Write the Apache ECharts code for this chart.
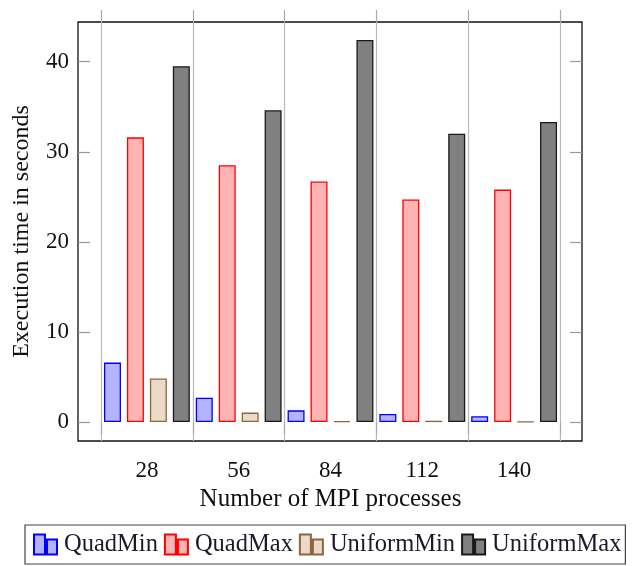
<!DOCTYPE html>
<html>
<head>
<meta charset="utf-8">
<script src="https://cdn.jsdelivr.net/npm/echarts@6/dist/echarts.min.js"></script>
<style>
  html, body { margin: 0; padding: 0; background: #fff; }
  #chart { width: 632px; height: 566px; }
</style>
</head>
<body>
<div id="chart"></div>
<script>
  // processes on the x axis
  var categories = ['28', '56', '84', '112', '140'];
  var seriesNames = ['QuadMin', 'QuadMax', 'UniformMin', 'UniformMax'];
  // execution times (s)
  var quadMin = [6.6, 2.7, 1.3, 0.9, 0.65];
  var quadMax = [31.6, 28.5, 26.7, 24.7, 25.8];
  var uniformMin = [4.85, 1.05, 0.12, 0.15, 0.06];
  var uniformMax = [39.5, 34.6, 42.4, 32.0, 33.3];
  var yTicks = [0, 10, 20, 30, 40];

  var font = 'Liberation Serif';
  var fills = ['#b3b3ff', '#ffb3b3', '#ecd9c6', '#808080'];
  var strokes = ['#0000ff', '#ff0000', '#8c6642', '#1a1a1a'];
  var values = [quadMin, quadMax, uniformMin, uniformMax];

  var yMin = -2.1, yMax = 44.4;

  var series = seriesNames.map(function (name, i) {
    return {
      name: name,
      type: 'bar',
      xAxisIndex: 1,
      yAxisIndex: 2,
      data: values[i],
      barWidth: 17,
      barGap: '35%',
      itemStyle: { color: fills[i], borderColor: strokes[i], borderWidth: 1.3 }
    };
  });

  var chart = echarts.init(document.getElementById('chart'));
  chart.setOption({
    animation: false,
    textStyle: { fontFamily: font },
    grid: [
      // frame
      { left: 78, right: 50, top: 22, bottom: 125, show: true, borderColor: '#111', borderWidth: 1.3, backgroundColor: 'transparent' },
      // bar area, between first and last grid line
      { left: 101, right: 72, top: 22, bottom: 125 }
    ],
    xAxis: [
      { gridIndex: 0, type: 'value', show: false, min: 0, max: 1 },
      {
        gridIndex: 1, type: 'category', data: categories, position: 'bottom',
        name: 'Number of MPI processes', nameLocation: 'middle', nameGap: 45,
        nameTextStyle: { fontFamily: font, fontSize: 25, color: '#111' },
        axisLine: { show: false },
        axisTick: { show: true, length: 12, lineStyle: { color: '#aaa', width: 1.2 } },
        axisLabel: { fontFamily: font, fontSize: 23, color: '#111', margin: 18 },
        splitLine: { show: true, lineStyle: { color: '#bbb', width: 1.2 } }
      },
      {
        gridIndex: 1, type: 'category', data: categories, position: 'top',
        axisLine: { show: false },
        axisTick: { show: true, length: 12, lineStyle: { color: '#aaa', width: 1.2 } },
        axisLabel: { show: false },
        splitLine: { show: false }
      }
    ],
    yAxis: [
      {
        gridIndex: 0, type: 'value', min: yMin, max: yMax, position: 'left',
        name: 'Execution time in seconds', nameLocation: 'middle', nameGap: 44,
        nameTextStyle: { fontFamily: font, fontSize: 24, color: '#111' },
        axisLine: { show: false },
        axisTick: { show: true, inside: true, length: 12, customValues: yTicks, lineStyle: { color: '#999', width: 1.2 } },
        axisLabel: { fontFamily: font, fontSize: 23, color: '#111', margin: 9, customValues: yTicks },
        splitLine: { show: false }
      },
      {
        gridIndex: 0, type: 'value', min: yMin, max: yMax, position: 'right',
        axisLine: { show: false },
        axisTick: { show: true, inside: true, length: 12, customValues: yTicks, lineStyle: { color: '#999', width: 1.2 } },
        axisLabel: { show: false },
        splitLine: { show: false }
      },
      { gridIndex: 1, type: 'value', min: yMin, max: yMax, show: false, splitLine: { show: false } }
    ],
    legend: {
      data: seriesNames,
      left: 25, top: 525, width: 620,
      orient: 'horizontal',
      icon: 'path://M0,0h11v20h-11z M13,5h10v15h-10z',
      itemWidth: 23, itemHeight: 20, itemGap: 6,
      padding: [7, 4, 7, 8],
      borderColor: '#444', borderWidth: 1.2,
      textStyle: { fontFamily: font, fontSize: 24.5, color: '#1a1a2e', padding: [0, 0, 0, 2] }
    },
    series: series
  });
</script>
</body>
</html>
